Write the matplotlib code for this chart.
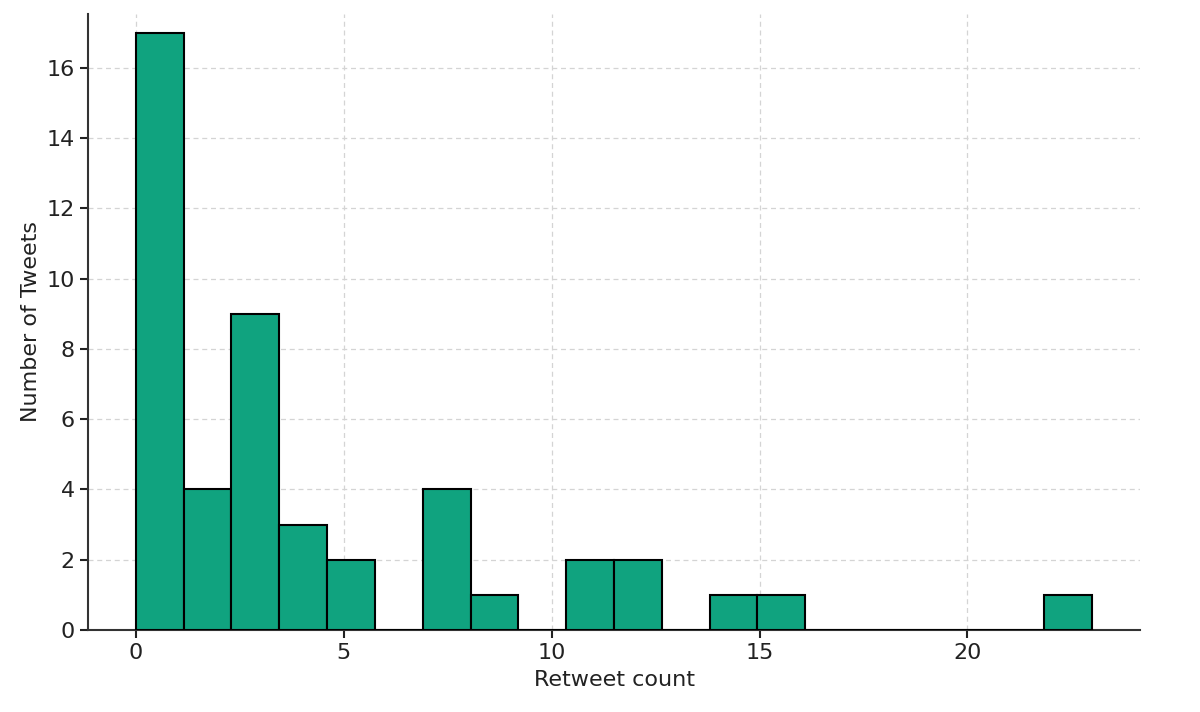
import numpy as np
import matplotlib
matplotlib.use("Agg")
import matplotlib.pyplot as plt

# histogram of retweet counts, 20 bins over 0..23
bin_edges = np.linspace(0, 23, 21)
tweet_counts = [17, 4, 9, 3, 2, 0, 4, 1, 0, 2, 2, 0, 1, 1, 0, 0, 0, 0, 0, 1]

fig = plt.figure(figsize=(12, 7.12), dpi=100)
ax = fig.add_axes([88 / 1200, 82 / 712, 1052 / 1200, 616 / 712])

ax.hist(bin_edges[:-1], bins=bin_edges, weights=tweet_counts,
        color="#10a37f", edgecolor="black", linewidth=1.5, zorder=3)

ax.set_xlim(-1.15, 24.15)
ax.set_ylim(0, 17.53)
ax.set_yticks(range(0, 17, 2))
ax.set_xticks([0, 5, 10, 15, 20])

ax.set_xlabel("Retweet count", fontsize=16, color="#222222", labelpad=5)
ax.set_ylabel("Number of Tweets", fontsize=16, color="#222222")
ax.tick_params(labelsize=16, colors="#222222", width=1.5, length=6)

ax.grid(True, linestyle=(0, (4, 3)), color="#d4d4d4", linewidth=0.9, zorder=0)
for side in ["top", "right"]:
    ax.spines[side].set_visible(False)
for side in ["left", "bottom"]:
    ax.spines[side].set_linewidth(1.5)
    ax.spines[side].set_color("#333333")

fig.savefig("out.png", dpi=100)
